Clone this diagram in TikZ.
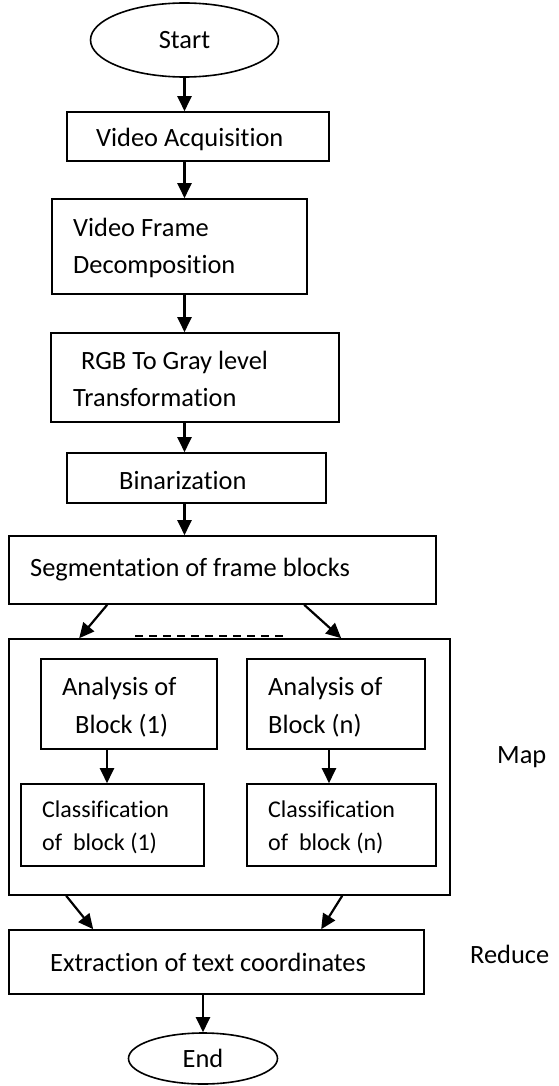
\documentclass[tikz,border=0pt]{standalone}
\usepackage{fontspec}
\setmainfont{Carlito}[Ligatures=NoCommon]
\usetikzlibrary{arrows.meta,shapes.geometric}
\newcommand\twoln[3]{\vtop{\baselineskip=#1\lineskiplimit=-100pt\hbox{#2}\hbox{#3}}}
\begin{document}
\begin{tikzpicture}[x=1pt,y=-1pt,
  box/.style={draw, line width=1.6pt, rectangle, inner sep=0pt},
  oval/.style={draw, line width=1.6pt, ellipse, inner sep=0pt, font=\fontsize{26.4}{32}\selectfont},
  txt/.style={inner sep=0pt, anchor=base west, font=\fontsize{26.4}{37}\selectfont},
  stxt/.style={inner sep=0pt, anchor=base west, font=\fontsize{24}{33}\selectfont},
  arr/.style={-{Triangle[length=15pt,width=14pt]}, line width=2.2pt},
  dashline/.style={line width=1.6pt, dash pattern=on 8pt off 6pt},
]
\useasboundingbox (0,0) rectangle (558,1086);

% shapes
\node[oval, minimum width=188pt, minimum height=74pt] (start) at (184.5,40) {Start};
\node[box, minimum width=262pt, minimum height=49pt] (va) at (198,136.5) {};
\node[box, minimum width=255pt, minimum height=95pt] (vf) at (179.5,246.5) {};
\node[box, minimum width=288pt, minimum height=89pt] (rgb) at (195,377.5) {};
\node[box, minimum width=259pt, minimum height=50pt] (bin) at (196.5,478) {};
\node[box, minimum width=427pt, minimum height=68pt] (seg) at (222.5,570) {};
\node[box, minimum width=441pt, minimum height=256pt] (mapbox) at (229.5,767) {};
\node[box, minimum width=176pt, minimum height=90pt] (an1) at (129,704) {};
\node[box, minimum width=178pt, minimum height=90pt] (ann) at (336,704) {};
\node[box, minimum width=183pt, minimum height=82pt] (cl1) at (112.5,825) {};
\node[box, minimum width=189pt, minimum height=82pt] (cln) at (341.5,825) {};
\node[box, minimum width=415pt, minimum height=64pt] (ext) at (216.5,962) {};
\node[oval, minimum width=149pt, minimum height=51pt] (end) at (203,1058.5) {End};

% texts
\node[txt] (vat) at (96,147) {Video Acquisition};
\node[txt] (vft) at (73,236) {\twoln{37pt}{Video Frame}{Decomposition}};
\node[txt] (rgbt) at (73,369) {\twoln{37pt}{\kern8pt RGB To Gray level}{Transformation}};
\node[txt] (bint) at (119,489) {Binarization};
\node[txt] (segt) at (30,576) {Segmentation of frame blocks};
\node[txt] (an1t) at (62,695) {\twoln{38pt}{Analysis of}{\kern13pt Block (1)}};
\node[txt] (annt) at (268,695) {\twoln{38pt}{Analysis of}{Block (n)}};
\node[stxt] (cl1t) at (42,817) {\twoln{33pt}{Classification}{of\ \ block (1)}};
\node[stxt] (clnt) at (268,817) {\twoln{33pt}{Classification}{of\ \ block (n)}};
\node[txt] (extt) at (50,971) {Extraction of text coordinates};
\node[txt] (maplbl) at (497,763) {Map};
\node[txt] (redlbl) at (470,963) {Reduce};

% main chain arrows
\draw[arr] (start.south) -- (start.south |- va.north);
\draw[arr] (va.south -| start.south) -- (vf.north -| start.south);
\draw[arr] (vf.south -| start.south) -- (rgb.north -| start.south);
\draw[arr] (rgb.south -| start.south) -- (bin.north -| start.south);
\draw[arr] (bin.south -| start.south) -- (seg.north -| start.south);

% split into blocks
\coordinate (s1) at ([xshift=99pt]seg.south west);
\coordinate (m1) at ([xshift=71pt]mapbox.north west);
\coordinate (s2) at ([xshift=296pt]seg.south west);
\coordinate (m2) at ([xshift=333pt]mapbox.north west);
\draw[arr] (s1) -- (m1);
\draw[arr] (s2) -- (m2);
\coordinate (d1) at (135,636);
\coordinate (d2) at (283,636);
\draw[dashline] (d1) -- (d2);

% inner arrows
\coordinate (a1) at ([xshift=-22pt]an1.south);
\coordinate (a2) at ([xshift=-7pt]ann.south);
\draw[arr] (a1) -- (a1 |- cl1.north);
\draw[arr] (a2) -- (a2 |- cln.north);

% merge
\coordinate (b1) at ([xshift=58pt]mapbox.south west);
\coordinate (e1) at ([xshift=85pt]ext.north west);
\coordinate (b2) at ([xshift=334pt]mapbox.south west);
\coordinate (e2) at ([xshift=313pt]ext.north west);
\draw[arr] (b1) -- (e1);
\draw[arr] (b2) -- (e2);

\draw[arr] (end.north |- ext.south) -- (end.north);
\end{tikzpicture}
\end{document}
